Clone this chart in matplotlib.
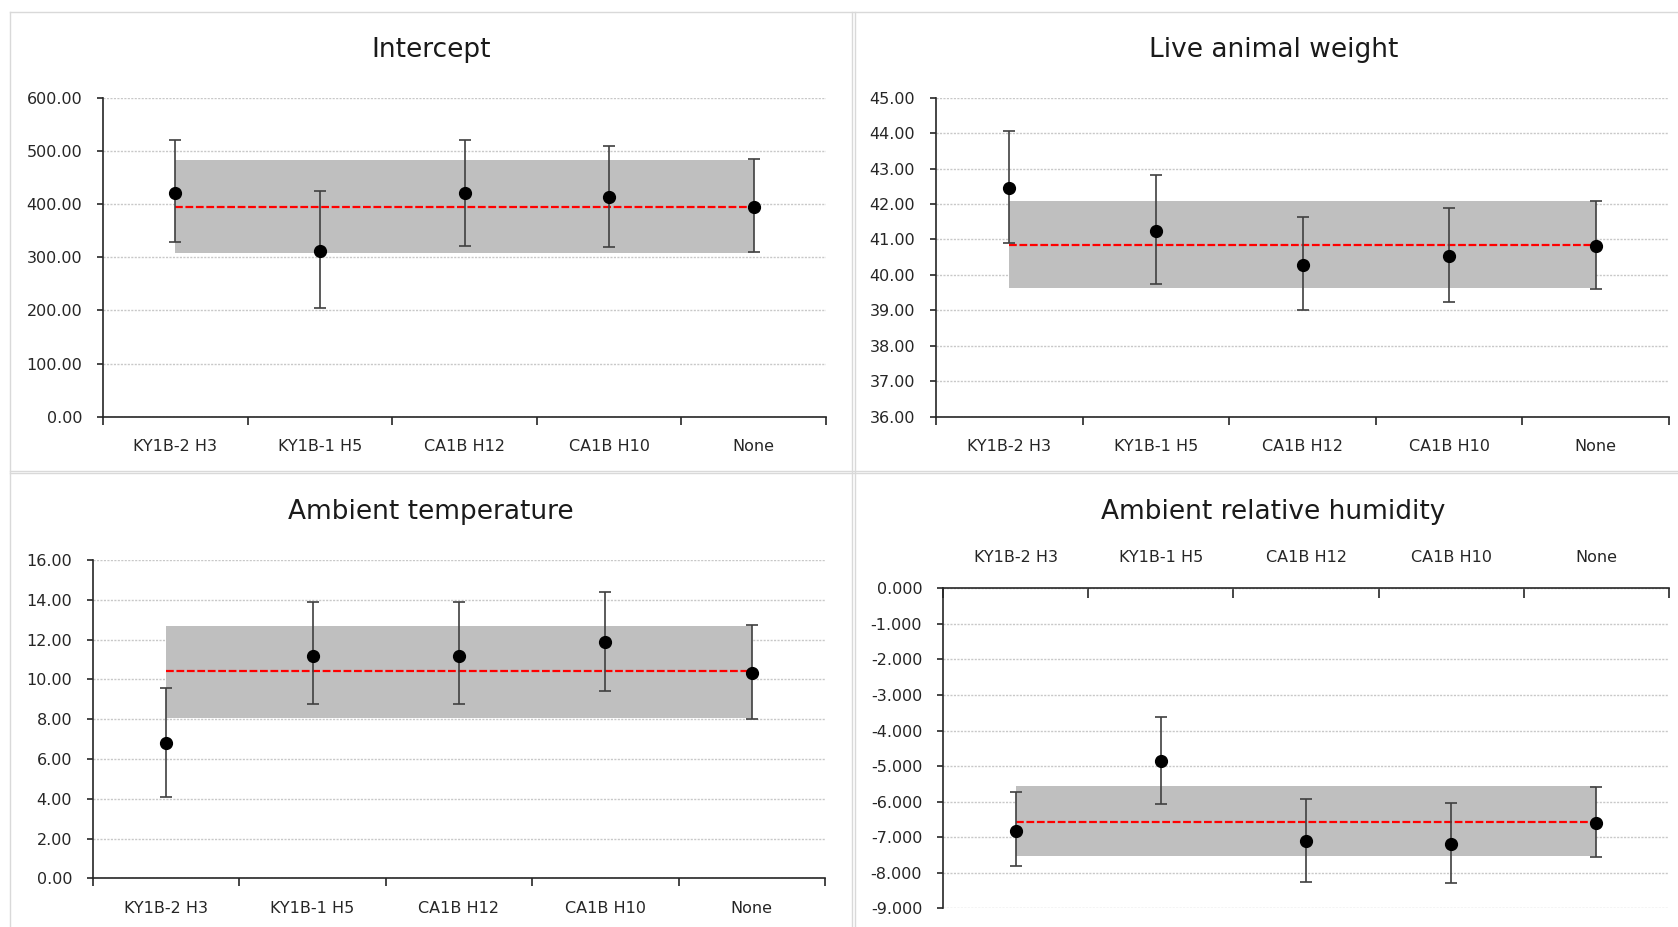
import numpy as np
import matplotlib
matplotlib.use("Agg")
import matplotlib.pyplot as plt
from matplotlib.lines import Line2D
from matplotlib.ticker import MultipleLocator, FormatStrFormatter

plt.rcParams['font.family'] = ['DejaVu Sans']
plt.rcParams['axes.unicode_minus'] = False

W, H = 1678, 927

categories = ["KY1B-2 H3", "KY1B-1 H5", "CA1B H12", "CA1B H10", "None"]

# intercept estimates with 95% limits
intercept_est = [421, 312, 421, 414, 394]
intercept_lo = [329, 204, 322, 319, 309]
intercept_hi = [520, 425, 520, 510, 484]
intercept_band = [307, 482]
intercept_mean = 394

# live animal weight
weight_est = [42.46, 41.23, 40.27, 40.52, 40.83]
weight_lo = [40.89, 39.74, 39.01, 39.25, 39.59]
weight_hi = [44.06, 42.83, 41.63, 41.88, 42.08]
weight_band = [39.62, 42.09]
weight_mean = 40.84

# ambient temperature
temp_est = [6.79, 11.19, 11.19, 11.89, 10.33]
temp_lo = [4.07, 8.75, 8.75, 9.43, 8.03]
temp_hi = [9.55, 13.87, 13.87, 14.39, 12.72]
temp_band = [8.08, 12.66]
temp_mean = 10.40

# ambient relative humidity
rh_est = [-6.83, -4.86, -7.12, -7.18, -6.59]
rh_lo = [-7.81, -6.08, -8.25, -8.30, -7.57]
rh_hi = [-5.74, -3.61, -5.93, -6.04, -5.59]
rh_band = [-7.54, -5.57]
rh_mean = -6.58


def px_rect(x0, y0, x1, y1):
    # pixel box (top-left origin) -> figure fraction rect
    return [x0 / W, 1 - y1 / H, (x1 - x0) / W, (y1 - y0) / H]


def draw_panel(fig, rect, title, title_xy, est, lo, hi, band, mean,
               ylim, step, fmt, top_axis=False):
    ax = fig.add_axes(rect)
    x = np.arange(len(categories)) + 0.5
    est = np.array(est)
    yerr = [est - np.array(lo), np.array(hi) - est]

    ax.fill_between([x[0], x[-1]], band[0], band[1], color='#bfbfbf',
                    linewidth=0, zorder=2)
    ax.plot([x[0], x[-1]], [mean, mean], color='#ff0000', lw=1.6,
            linestyle=(0, (3.5, 1.2)), zorder=3)
    ax.errorbar(x, est, yerr=yerr, fmt='o', color='black', ecolor='#404040',
                elinewidth=1.2, capsize=4.3, capthick=1.2, markersize=8.5,
                zorder=4)

    ax.set_xlim(0, len(categories))
    ax.set_ylim(*ylim)
    ax.yaxis.set_major_locator(MultipleLocator(step))
    ax.yaxis.set_major_formatter(FormatStrFormatter(fmt))
    ax.grid(axis='y', color='#c8c8c8', linestyle=(0, (1.5, 1)), lw=1, zorder=0)
    ax.set_axisbelow(True)

    ax.set_xticks(np.arange(len(categories) + 1))
    ax.set_xticklabels([])
    ax.set_xticks(x, minor=True)
    ax.set_xticklabels(categories, minor=True)

    ax.spines['right'].set_visible(False)
    for s in ['left', 'bottom', 'top']:
        ax.spines[s].set_color('#262626')
        ax.spines[s].set_linewidth(1.2)

    if top_axis:
        ax.spines['bottom'].set_visible(False)
        ax.xaxis.tick_top()
        ax.tick_params(axis='x', which='major', direction='in', length=7,
                       width=1.2, color='#262626')
        ax.tick_params(axis='x', which='minor', length=0, pad=17,
                       labelsize=11.5, labelcolor='#262626')
    else:
        ax.spines['top'].set_visible(False)
        ax.tick_params(axis='x', which='major', direction='out', length=6,
                       width=1.2, color='#262626')
        ax.tick_params(axis='x', which='minor', length=0, pad=16,
                       labelsize=11.5, labelcolor='#262626')
    ax.tick_params(axis='y', direction='out', length=4, width=1.2,
                   color='#262626', pad=11, labelsize=11.5,
                   labelcolor='#262626')
    ax.set_facecolor('white')

    fig.text(title_xy[0] / W, 1 - title_xy[1] / H, title, fontsize=19,
             color='#1a1a1a', ha='center', va='center')
    return ax


fig = plt.figure(figsize=(W / 100, H / 100), dpi=100)

# light panel frames
for y in [12, 471, 473]:
    fig.add_artist(Line2D([10 / W, 1], [1 - y / H, 1 - y / H],
                          color='#d9d9d9', lw=1.0))
for xv in [10, 852, 855]:
    fig.add_artist(Line2D([xv / W, xv / W], [0, 1 - 12 / H],
                          color='#d9d9d9', lw=1.0))

draw_panel(fig, px_rect(103, 97.7, 826, 416.7), "Intercept", (431, 50),
           intercept_est, intercept_lo, intercept_hi, intercept_band,
           intercept_mean, (0, 600), 100, '%.2f')
draw_panel(fig, px_rect(936, 97.7, 1669, 416.7), "Live animal weight",
           (1274, 50), weight_est, weight_lo, weight_hi, weight_band,
           weight_mean, (36, 45), 1, '%.2f')
draw_panel(fig, px_rect(93, 560, 825, 878.3), "Ambient temperature",
           (431, 512), temp_est, temp_lo, temp_hi, temp_band, temp_mean,
           (0, 16), 2, '%.2f')
draw_panel(fig, px_rect(943, 588.3, 1669, 908.3), "Ambient relative humidity",
           (1273, 512), rh_est, rh_lo, rh_hi, rh_band, rh_mean,
           (-9, 0), 1, '%.3f', top_axis=True)

fig.savefig('out.png', dpi=100)
